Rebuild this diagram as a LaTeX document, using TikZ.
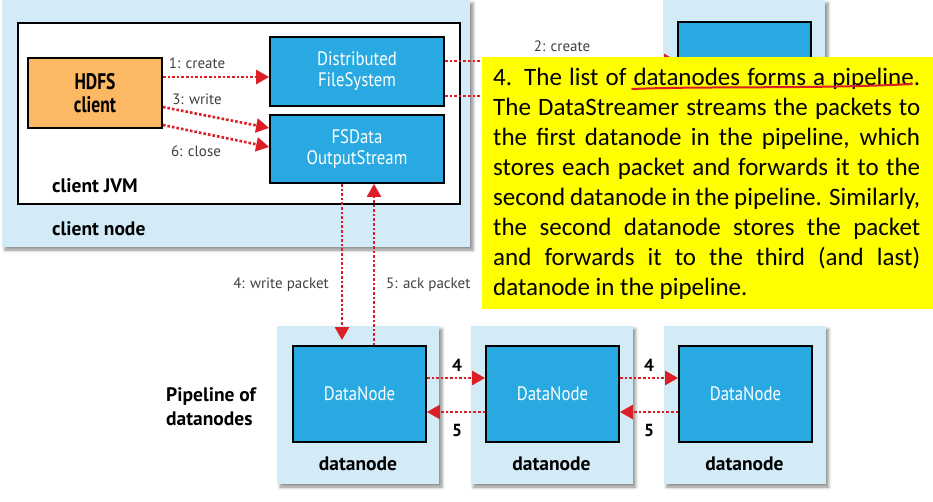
\documentclass[tikz,border=0pt]{standalone}
\usepackage{fontspec}
\setmainfont{Carlito}
\newfontfamily\dfont[FakeStretch=0.86]{PT Sans}
\newfontfamily\cfont[FakeStretch=0.78]{PT Sans}
\newfontfamily\lfont{PT Sans}
\usetikzlibrary{arrows.meta,shadows.blur,calc}
\definecolor{lblue}{HTML}{D3EBF7}
\definecolor{dblue}{HTML}{29A9E1}
\definecolor{orng}{HTML}{FDB863}
\definecolor{rred}{HTML}{DC1F26}
\definecolor{ylw}{HTML}{FFFF00}
\newcommand{\jline}[1]{\makebox[427pt][s]{#1}}
\begin{document}
\begin{tikzpicture}[x=1pt,y=-1pt,
  host/.style={fill=lblue, draw=none, inner sep=0,
    blur shadow={shadow xshift=3pt, shadow yshift=-3pt, shadow blur radius=3pt, shadow opacity=45}},
  box/.style={draw=black, line width=1.8pt, inner sep=0, align=center},
  comp/.style={box, fill=dblue, text=white, font=\dfont\fontsize{19.5}{21}\selectfont},
  flow/.style={draw=rred, line width=2.6pt, dash pattern=on 2.6pt off 2pt,
    -{Triangle[length=13pt,width=14pt,fill=rred]}},
  lab/.style={font=\lfont\fontsize{15}{17}\selectfont, text=black!75, inner sep=0},
  blab/.style={font=\lfont\bfseries\fontsize{19.5}{24}\selectfont, inner sep=0, align=left},
  num/.style={font=\lfont\bfseries\fontsize{17.5}{20}\selectfont, inner sep=0}]
\useasboundingbox (0,0) rectangle (933,501);
% client node
\node[host, minimum width=468pt, minimum height=247pt] (cn) at (236,123.5) {};
\node[box, fill=white, minimum width=442pt, minimum height=181pt] (jvm) at (239,113.5) {};
\node[box, fill=orng, minimum width=134pt, minimum height=70pt,
  font=\cfont\bfseries\fontsize{22.5}{23}\selectfont] (hc) at (95,93) {HDFS\\client};
\node[comp, minimum width=174pt, minimum height=69pt] (dfs) at (357,71.5) {Distributed\\FileSystem};
\node[comp, minimum width=174pt, minimum height=68pt] (fsd) at (357,149) {FSData\\OutputStream};
\node[blab, anchor=west] (jvml) at (52,186) {client JVM};
\node[blab, anchor=west] (cnl) at (52,229) {client node};
% client arrows
\draw[flow] ([yshift=16pt]hc.east) -- ([yshift=-5.5pt]dfs.west);
\draw[flow] ([yshift=-14pt]hc.east) -- ([yshift=21pt]fsd.west);
\draw[flow] ([yshift=-32pt]hc.east) -- ([yshift=2pt]fsd.west);
\node[lab] (l1) at (197,63) {1: create};
\node[lab] (l3) at (197,99) {3: write};
\node[lab] (l6) at (196,151) {6: close};
% namenode
\node[host, minimum width=162pt, minimum height=260pt] (nn) at (744,130) {};
\node[comp, minimum width=133pt, minimum height=190pt] (nnb) at (744.5,117) {};
\coordinate (a2) at ([yshift=10.5pt]dfs.east);
\coordinate (a7) at ([yshift=-24.5pt]dfs.east);
\draw[flow] (a2) -- (a2 -| nnb.west);
\draw[flow] (a7) -- (a7 -| nnb.west);
\node[lab] (l2) at (562,46) {2: create};
% datanodes
\node[host, minimum width=162pt, minimum height=158pt] (h1) at (358,405) {};
\node[host, minimum width=162pt, minimum height=158pt] (h2) at (551.5,405) {};
\node[host, minimum width=162pt, minimum height=158pt] (h3) at (744.5,405) {};
\node[comp, minimum width=133pt, minimum height=96pt] (d1) at (359.5,394) {DataNode};
\node[comp, minimum width=133pt, minimum height=96pt] (d2) at (552.5,394) {DataNode};
\node[comp, minimum width=133pt, minimum height=96pt] (d3) at (745.5,394) {DataNode};
\node[blab] (t1) at (358,464) {datanode};
\node[blab] (t2) at (551.5,464) {datanode};
\node[blab] (t3) at (744.5,464) {datanode};
\node[blab, anchor=west] (pl) at (166,407) {Pipeline of\\datanodes};
% write / ack
\coordinate (wend) at (342,340);
\draw[flow] ([xshift=-15pt]fsd.south) -- (wend);
\draw[flow] ([xshift=14.5pt]d1.north) -- ([xshift=17pt]fsd.south);
\node[lab, anchor=east] (lw) at (329,285) {4: write packet};
\node[lab, anchor=west] (la) at (386,285) {5: ack packet};
% pipeline arrows
\draw[flow] ([yshift=16pt]d1.east) -- ([yshift=16pt]d2.west);
\draw[flow] ([yshift=-18pt]d2.west) -- ([yshift=-18pt]d1.east);
\draw[flow] ([yshift=16pt]d2.east) -- ([yshift=16pt]d3.west);
\draw[flow] ([yshift=-18pt]d3.west) -- ([yshift=-18pt]d2.east);
\node[num] (n41) at (457,365) {4};
\node[num] (n51) at (457,430) {5};
\node[num] (n42) at (649,365) {4};
\node[num] (n52) at (649,430) {5};
% note
\node[fill=ylw, minimum width=451pt, minimum height=252pt, inner sep=0] (note) at (707.5,183) {};
\node[anchor=north west, align=left, inner sep=0,
  font=\fontsize{25}{30}\selectfont] (notetext) at (493,68)
 {\jline{4. The list of datanodes forms a pipeline.}\\
  \jline{The DataStreamer streams the packets to}\\
  \jline{the first datanode in the pipeline, which}\\
  \jline{stores each packet and forwards it to the}\\
  \jline{second datanode in the pipeline. Similarly,}\\
  \jline{the second datanode stores the packet}\\
  \jline{and forwards it to the third (and last)}\\
  datanode in the pipeline.};
\draw[rred, line width=2pt, line cap=round] (632,89) .. controls (700,86) and (820,89) .. (912,84);
\end{tikzpicture}
\end{document}
